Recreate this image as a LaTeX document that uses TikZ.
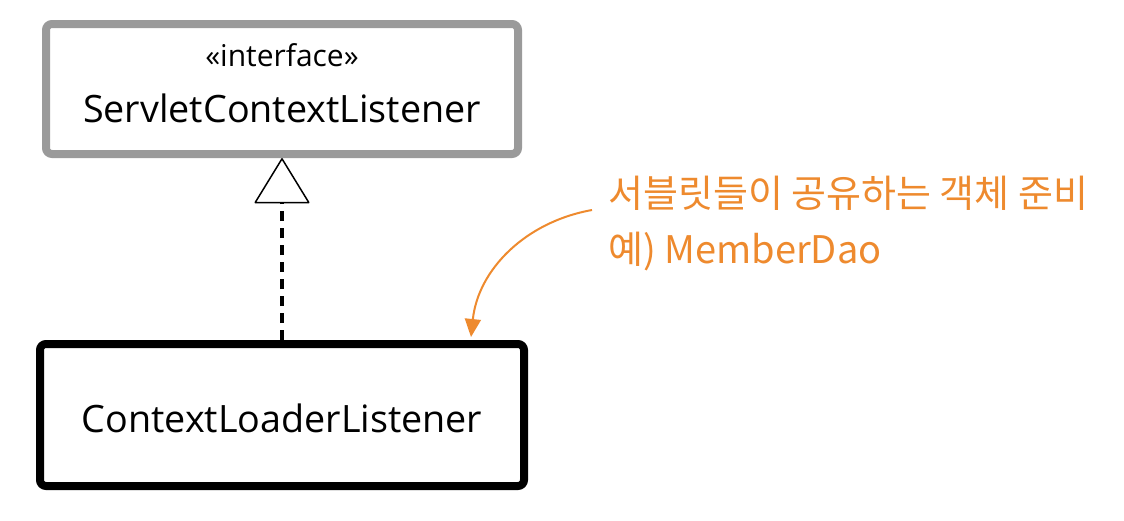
\documentclass[tikz,border=0pt]{standalone}
\usepackage{fontspec}
\setmainfont{Open Sans}
\newfontfamily\krfont{Noto Sans CJK KR}
\usetikzlibrary{arrows.meta}
\definecolor{boxgray}{HTML}{9A9A9A}
\definecolor{noteorange}{HTML}{EE8A2E}
\tikzset{
  umlbox/.style={draw, rectangle, rounded corners=6pt, line width=8pt, fill=white, inner sep=0pt},
  ifacebox/.style={umlbox, draw=boxgray},
  implbox/.style={umlbox, draw=black},
  stereotext/.style={font=\fontsize{30}{34}\selectfont, anchor=base, inner sep=0pt},
  nametext/.style={font=\fontsize{37.7}{42}\selectfont, anchor=base, inner sep=0pt},
  notetext/.style={font=\krfont\fontsize{38}{44}\selectfont, text=noteorange, anchor=base west, inner sep=0pt},
  realize/.style={line width=4pt, dash pattern=on 10pt off 7pt, -{Triangle[open, length=46pt, width=56pt, line width=1.5pt, round]}},
  notearrow/.style={draw=noteorange, line width=2pt, -{Triangle[length=18pt, width=16pt, fill=noteorange]}}
}
\begin{document}
\begin{tikzpicture}[x=1pt,y=-1pt]
\useasboundingbox[fill=white] (0,0) rectangle (1124,520);
\node[ifacebox, minimum width=472pt, minimum height=130pt] (iface) at (282,89) {};
\node[stereotext] (stereo) at (282,66) {«interface»};
\node[nametext] (ifname) at (282,122) {ServletContextListener};
\node[implbox, minimum width=484pt, minimum height=142pt] (impl) at (282,415) {};
\node[nametext] (implname) at (282,432) {ContextLoaderListener};
\draw[realize] (impl.north) -- (iface.south);
\node[notetext] (note1) at (608,207) {서블릿들이 공유하는 객체 준비};
\node[notetext] (note2) at (608,263) {예) MemberDao};
\coordinate (notestart) at (592,210);
\coordinate (noteend) at (471,337);
\draw[notearrow] (notestart) .. controls (525,222) and (478,270) .. (noteend);
\end{tikzpicture}
\end{document}
